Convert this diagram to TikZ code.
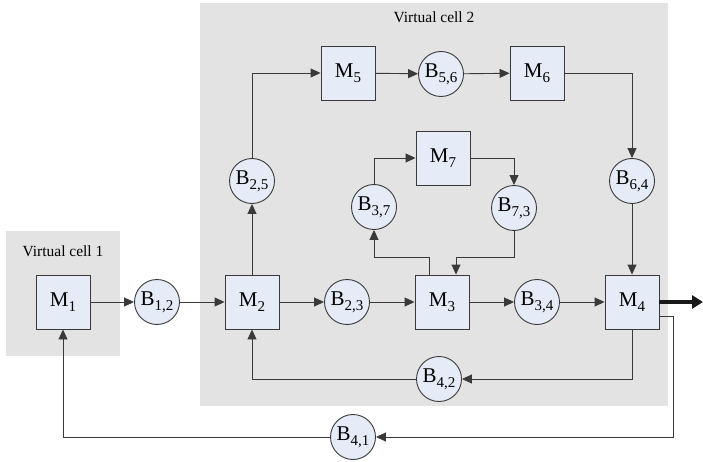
\documentclass[tikz,border=0pt]{standalone}
\usepackage{fontspec}
\setmainfont{Liberation Serif}
\usetikzlibrary{arrows.meta,calc}
\definecolor{cellbg}{HTML}{E2E3E2}
\definecolor{nodefill}{HTML}{E5ECF7}
\definecolor{linec}{HTML}{3A3A3A}
\newcommand{\lab}[2]{{\fontsize{21}{21}\selectfont #1\raisebox{-5pt}{\fontsize{15}{15}\selectfont #2}}}
\begin{document}
\begin{tikzpicture}[x=1pt,y=-1pt,
  machine/.style={draw=linec,fill=nodefill,line width=0.9pt,minimum size=54pt,inner sep=0pt},
  buffer/.style={draw=linec,fill=nodefill,circle,line width=0.9pt,minimum size=45pt,inner sep=0pt},
  arr/.style={draw=linec,line width=0.9pt,-{Triangle[length=10pt,width=9pt]}},
  bigarr/.style={draw=black!90,line width=3.2pt,-{Triangle[length=11pt,width=13pt]}},
  celltext/.style={font=\fontsize{15.5}{15.5}\selectfont}]
\useasboundingbox (0,0) rectangle (703,462);
\fill[cellbg] (6,231) rectangle (120,356);
\fill[cellbg] (200,3) rectangle (668,406);
\node[celltext] (vc1) at (63,251) {Virtual cell 1};
\node[celltext] (vc2) at (434,17) {Virtual cell 2};
% machines
\node[machine] (M1) at (63,302) {\lab{M}{1}};
\node[machine] (M2) at (252,302) {\lab{M}{2}};
\node[machine] (M3) at (442,302) {\lab{M}{3}};
\node[machine] (M4) at (632,302) {\lab{M}{4}};
\node[machine] (M5) at (348,73) {\lab{M}{5}};
\node[machine] (M6) at (537,73) {\lab{M}{6}};
\node[machine] (M7) at (443,158) {\lab{M}{7}};
% buffers
\node[buffer] (B12) at (157,302) {\lab{B}{1,2}};
\node[buffer] (B23) at (347,302) {\lab{B}{2,3}};
\node[buffer] (B34) at (537,302) {\lab{B}{3,4}};
\node[buffer] (B25) at (252,181) {\lab{B}{2,5}};
\node[buffer] (B56) at (441,74) {\lab{B}{5,6}};
\node[buffer] (B64) at (632,181) {\lab{B}{6,4}};
\node[buffer] (B37) at (374,207) {\lab{B}{3,7}};
\node[buffer] (B73) at (514,208) {\lab{B}{7,3}};
\node[buffer] (B42) at (439,379) {\lab{B}{4,2}};
\node[buffer] (B41) at (353,437) {\lab{B}{4,1}};
% helper coordinates
\coordinate (c1) at (429,257);
\coordinate (c2) at (456,257);
\coordinate (c4) at (673,437);
\coordinate (out) at (703,302);
% connectors
\draw[arr] (M1) -- (B12);
\draw[arr] (B12) -- (M2);
\draw[arr] (M2) -- (B23);
\draw[arr] (B23) -- (M3);
\draw[arr] (M3) -- (B34);
\draw[arr] (B34) -- (M4);
\draw[arr] (M2) -- (B25);
\draw[arr] (B25) |- (M5);
\draw[arr] (M5) -- (B56);
\draw[arr] (B56) -- (M6);
\draw[arr] (M6) -| (B64);
\draw[arr] (B64) -- (M4);
\draw[arr] (c1 |- M3.north) -- (c1) -| (B37);
\draw[arr] (B37) |- (M7);
\draw[arr] (M7) -| (B73);
\draw[arr] (B73) |- (c2) -- (c2 |- M3.north);
\draw[arr] (M4) |- (B42);
\draw[arr] (B42) -| (M2);
\draw[arr] ([yshift=-14pt]M4.east) -| (c4) -- (B41);
\draw[arr] (B41) -| (M1);
\draw[bigarr] (M4) -- (out);
\end{tikzpicture}
\end{document}
